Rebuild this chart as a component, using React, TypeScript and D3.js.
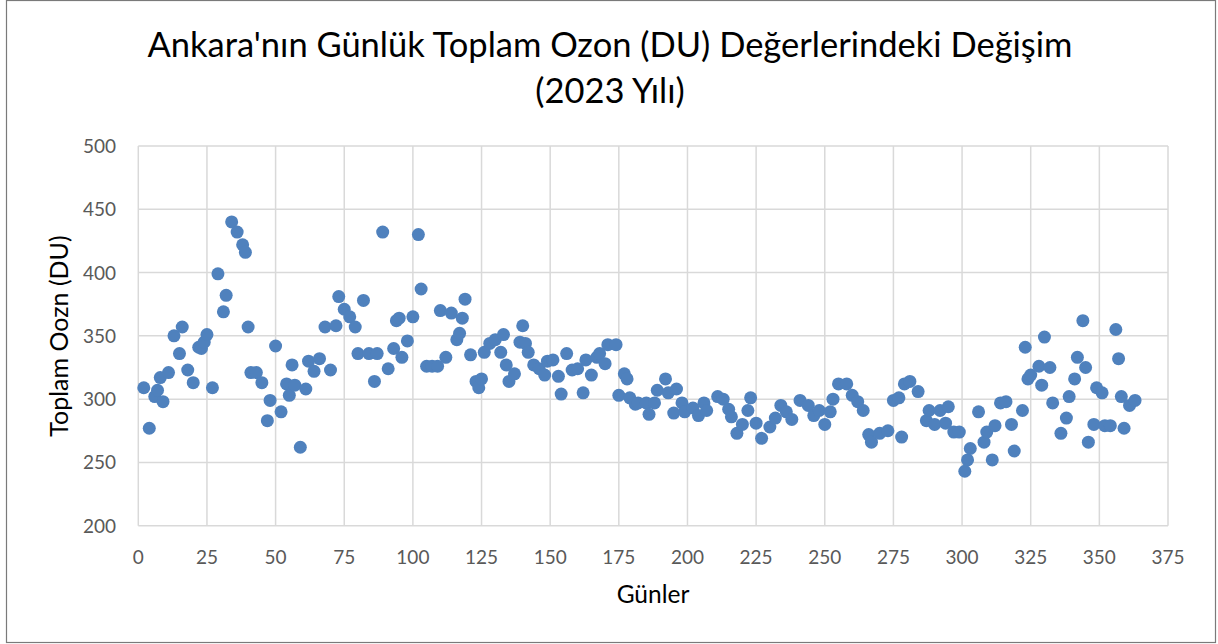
import React, { useEffect, useRef } from 'react';
import * as d3 from 'd3';

// Gün numaraları ve toplam ozon değerleri (DU)
const days = [
  2, 4, 6, 7, 8, 9, 11, 13, 15, 16, 18, 20, 22, 23, 24, 25, 27, 29, 31, 32,
  34, 36, 38, 39, 40, 41, 43, 45, 47, 48, 50, 52, 54, 55, 56, 57, 59, 61, 62, 64,
  66, 68, 70, 72, 73, 75, 77, 79, 80, 82, 84, 86, 87, 89, 91, 93, 94, 95, 96, 98,
  100, 102, 103, 105, 107, 109, 110, 112, 114, 116, 117, 118, 119, 121, 123, 124, 125, 126, 128, 130,
  132, 133, 134, 135, 137, 139, 140, 141, 142, 144, 146, 148, 149, 151, 153, 154, 156, 158, 160, 162,
  163, 165, 167, 168, 170, 171, 174, 175, 177, 178, 179, 181, 182, 185, 186, 188, 189, 192, 193, 195,
  196, 198, 199, 202, 204, 206, 207, 211, 213, 215, 216, 218, 220, 222, 223, 225, 227, 230, 232, 234,
  236, 238, 241, 244, 246, 248, 250, 252, 253, 255, 258, 260, 262, 264, 266, 267, 270, 273, 275, 277,
  278, 279, 281, 284, 287, 288, 290, 292, 294, 295, 297, 299, 301, 302, 303, 306, 308, 309, 311, 312,
  314, 316, 318, 319, 322, 323, 324, 325, 328, 329, 330, 332, 333, 336, 338, 339, 341, 342, 344, 345,
  346, 348, 349, 351, 352, 354, 356, 357, 358, 359, 361, 363
];

const ozone = [
  309, 277, 302, 307, 317, 298, 321, 350, 336, 357, 323, 313, 341, 340, 345, 351, 309, 399, 369, 382,
  440, 432, 422, 416, 357, 321, 321, 313, 283, 299, 342, 290, 312, 303, 327, 311, 262, 308, 330, 322,
  332, 357, 323, 358, 381, 371, 365, 357, 336, 378, 336, 314, 336, 432, 324, 340, 362, 364, 333, 346,
  365, 430, 387, 326, 326, 326, 370, 333, 368, 347, 352, 364, 379, 335, 314, 309, 316, 337, 344, 347,
  337, 351, 327, 314, 320, 345, 358, 344, 337, 327, 324, 319, 330, 331, 318, 304, 336, 323, 324, 305,
  331, 319, 333, 336, 328, 343, 343, 303, 320, 316, 301, 296, 297, 297, 288, 297, 307, 316, 305, 289,
  308, 297, 290, 293, 287, 297, 291, 302, 300, 292, 286, 273, 280, 291, 301, 281, 269, 278, 285, 295,
  290, 284, 299, 295, 287, 291, 280, 290, 300, 312, 312, 303, 298, 291, 272, 266, 273, 275, 299, 301,
  270, 312, 314, 306, 283, 291, 280, 291, 281, 294, 274, 274, 243, 252, 261, 290, 266, 274, 252, 279,
  297, 298, 280, 259, 291, 341, 316, 319, 326, 311, 349, 325, 297, 273, 285, 302, 316, 333, 362, 325,
  266, 280, 309, 305, 279, 279, 355, 332, 302, 277, 295, 299
];

const xTicks = [0, 25, 50, 75, 100, 125, 150, 175, 200, 225, 250, 275, 300, 325, 350, 375];
const yTicks = [200, 250, 300, 350, 400, 450, 500];

const titleLines = ["Ankara'nın Günlük Toplam Ozon (DU) Değerlerindeki Değişim", '(2023 Yılı)'];
const xTitle = 'Günler';
const yTitle = 'Toplam Oozn (DU)';

const W = 1218;
const H = 644;
const FONT = 'Lato, "Open Sans", sans-serif';

const App = () => {
  const svgRef = useRef<SVGSVGElement>(null);

  useEffect(() => {
    const svg = d3.select(svgRef.current);
    svg.selectAll('*').remove();

    const left = 138.3;
    const right = 1168;
    const top = 146;
    const bottom = 525.7;

    const x = d3.scaleLinear().domain([0, 375]).range([left, right]);
    const y = d3.scaleLinear().domain([200, 500]).range([bottom, top]);

    svg.append('rect')
      .attr('width', W)
      .attr('height', H)
      .attr('fill', '#fff');

    // çerçeve
    svg.append('rect')
      .attr('x', 6.5)
      .attr('y', 0.5)
      .attr('width', 1209)
      .attr('height', 642)
      .attr('fill', 'none')
      .attr('stroke', '#7a7a7a')
      .attr('stroke-width', 1.2);

    // ızgara
    svg.append('g')
      .selectAll('line')
      .data(xTicks)
      .enter().append('line')
      .attr('x1', d => x(d))
      .attr('x2', d => x(d))
      .attr('y1', top)
      .attr('y2', bottom)
      .attr('stroke', '#d9d9d9')
      .attr('stroke-width', 1.5);

    svg.append('g')
      .selectAll('line')
      .data(yTicks)
      .enter().append('line')
      .attr('x1', left)
      .attr('x2', right)
      .attr('y1', d => y(d))
      .attr('y2', d => y(d))
      .attr('stroke', '#d9d9d9')
      .attr('stroke-width', 1.5);

    // eksen etiketleri
    svg.append('g')
      .selectAll('text')
      .data(yTicks)
      .enter().append('text')
      .attr('x', 116)
      .attr('y', d => y(d) + 7)
      .attr('text-anchor', 'end')
      .style('font-family', FONT)
      .style('font-size', '19px')
      .style('fill', '#595959')
      .text(d => d);

    svg.append('g')
      .selectAll('text')
      .data(xTicks)
      .enter().append('text')
      .attr('x', d => x(d))
      .attr('y', 564)
      .attr('text-anchor', 'middle')
      .style('font-family', FONT)
      .style('font-size', '19px')
      .style('fill', '#595959')
      .text(d => d);

    // noktalar
    const points = days.map((d, i) => ({ day: d, value: ozone[i] }));
    svg.append('g')
      .selectAll('circle')
      .data(points)
      .enter().append('circle')
      .attr('cx', d => x(d.day))
      .attr('cy', d => y(d.value))
      .attr('r', 6.5)
      .attr('fill', '#4f81bd');

    // başlık
    svg.append('g')
      .selectAll('text')
      .data(titleLines)
      .enter().append('text')
      .attr('x', 610)
      .attr('y', (d, i) => 57 + i * 46)
      .attr('text-anchor', 'middle')
      .style('font-family', FONT)
      .style('font-size', '34.5px')
      .style('fill', '#000')
      .text(d => d);

    svg.append('text')
      .attr('x', 653)
      .attr('y', 603)
      .attr('text-anchor', 'middle')
      .style('font-family', FONT)
      .style('font-size', '24.5px')
      .style('fill', '#000')
      .text(xTitle);

    svg.append('text')
      .attr('transform', 'translate(68, 336) rotate(-90)')
      .attr('text-anchor', 'middle')
      .style('font-family', FONT)
      .style('font-size', '25px')
      .style('fill', '#000')
      .text(yTitle);
  }, []);

  return (
    <svg
      ref={svgRef}
      width={W}
      height={H}
      style={{ position: 'absolute', left: 0, top: 0, display: 'block' }}
    />
  );
};

export default App;
